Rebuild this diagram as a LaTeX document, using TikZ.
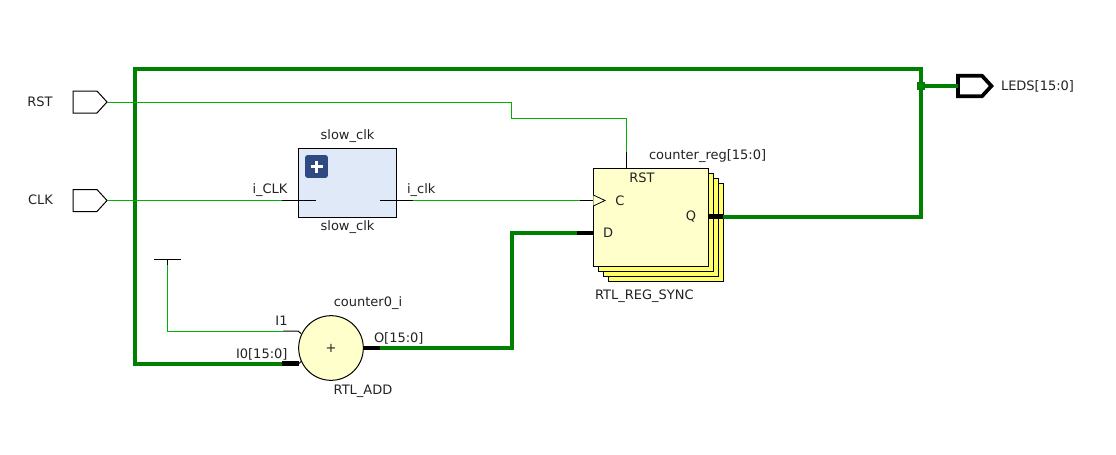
\documentclass[tikz,border=0pt]{standalone}
\usepackage{fontspec}
\setmainfont{DejaVu Sans}
\usetikzlibrary{shapes.symbols}
\definecolor{wthin}{HTML}{00B000}
\definecolor{wthick}{HTML}{008000}
\definecolor{regfront}{HTML}{FFFFCC}
\definecolor{regback}{HTML}{FFFF66}
\definecolor{hierfill}{HTML}{DFE9F7}
\definecolor{plusfill}{HTML}{2F4A82}
\definecolor{labelc}{HTML}{222222}
\tikzset{
  x=0.75pt,y=-0.75pt,
  lbl/.style={font=\fontsize{9.75}{12}\selectfont,text=labelc,inner sep=0pt,outer sep=0pt},
  portin/.style={signal,signal to=east,draw=black,line width=0.75pt,fill=white,signal pointer angle=95,minimum width=25.5pt,minimum height=16.5pt,inner sep=0pt,outer sep=0pt},
  portout/.style={signal,signal to=east,draw=black,line width=2.8pt,fill=white,signal pointer angle=95,minimum width=25pt,minimum height=15.5pt,inner sep=0pt,outer sep=0pt},
  thin wire/.style={draw=wthin,line width=0.75pt},
  thick wire/.style={draw=wthick,line width=3pt},
  thin stub/.style={draw=black,line width=0.75pt},
  thick stub/.style={draw=black,line width=3.2pt},
  regsheet/.style={draw=black,line width=0.75pt,minimum width=86.25pt,minimum height=73.9pt,inner sep=0pt,outer sep=0pt},
}
\begin{document}
\begin{tikzpicture}
\useasboundingbox[fill=white] (0,0) rectangle (1116,454);
% ports
\node[portin] (rstport) at (85,102) {};
\node[portin] (clkport) at (85,200.5) {};
\node[portout] (ledsport) at (970,86) {};
% blocks
\node[draw=black,fill=hierfill,line width=0.75pt,minimum width=73.6pt,minimum height=51.6pt,inner sep=0pt,outer sep=0pt] (slowclk) at (347.5,183) {};
\node[fill=plusfill,rounded corners=2pt,minimum size=17.2pt,inner sep=0pt] (plusicon) at (316.5,166.5) {};
\draw[white,line width=1.6pt] (plusicon.center) ++(-6,0) -- ++(12,0) (plusicon.center) ++(0,-6) -- ++(0,12);
\node[regsheet,fill=regback] (reg3) at (665.8,232.5) {};
\node[regsheet,fill=regback] (reg2) at (660.8,227.5) {};
\node[regsheet,fill=regback] (reg1) at (655.8,222.5) {};
\node[regsheet,fill=regfront] (reg0) at (650.8,217.5) {};
\node[circle,draw=black,fill=regfront,line width=0.75pt,minimum size=48.5pt,inner sep=0pt,outer sep=0pt] (adder) at (331,348) {};
\node[lbl] (plus) at (331,348) {+};
% bend and pin coordinates
\coordinate (iclkin) at (316,200.5);
\coordinate (iclkstub) at (282,200.5);
\coordinate (oclkout) at (380,200.5);
\coordinate (oclkstub) at (413,200.5);
\coordinate (cstub) at (580,200.5);
\coordinate (cpin) at (593.3,200.5);
\coordinate (dstub) at (577,233);
\coordinate (dpin) at (593.3,233);
\coordinate (qstub) at (723.3,216.5);
\coordinate (qpin) at (708.3,216.5);
\coordinate (jct) at (921,86);
\coordinate (i0stub) at (282,363.5);
\coordinate (i0pin) at (299,363.5);
\coordinate (i1stub) at (283,331);
\coordinate (i1pin) at (298,331);
\coordinate (ostub) at (380,348);
\coordinate (opin) at (363,348);
\coordinate (rststub) at (626.5,152);
\coordinate (rstpin) at (626.5,168);
\coordinate (tiecenter) at (167.5,259);
\coordinate (tieleft) at (154,259);
\coordinate (tieright) at (181,259);
% thick wires
\path[thick wire,line join=miter] (qstub) -- (921,216.5) -- (921,69) -- (135,69) -- (135,363.5) -- (i0stub);
\path[thick wire] (jct) -- (ledsport.west);
\path[thick wire,line join=miter] (ostub) -- (511.5,348) -- (511.5,233) -- (dstub);
\node[fill=wthick,minimum size=6pt,inner sep=0pt] (jctdot) at (jct) {};
% thin wires
\path[thin wire] (rstport.east) -- (511.5,102) -- (511.5,118) -- (626.5,118) -- (rststub);
\path[thin wire] (clkport.east) -- (iclkstub);
\path[thin wire] (oclkstub) -- (cstub);
\path[thin wire] (tiecenter) -- (167.5,331) -- (i1stub);
% stubs
\path[thin stub] (rststub) -- (rstpin);
\path[thin stub] (iclkstub) -- (iclkin);
\path[thin stub] (oclkout) -- (oclkstub);
\path[thin stub] (cstub) -- (cpin);
\path[thin stub] (i1stub) -- (i1pin) -- (301,333.5);
\path[thin stub] (tieleft) -- (tieright);
\path[thin stub] (tiecenter) -- (167.5,265);
\path[thick stub] (dstub) -- (dpin);
\path[thick stub] (qpin) -- (qstub);
\path[thick stub] (i0stub) -- (i0pin);
\path[thin stub] (i0pin) -- (301.5,361);
\path[thick stub] (opin) -- (ostub);
\draw[black,line width=0.6pt,fill=regfront] (593.3,195) -- (605,200.5) -- (593.3,206);
% labels
\node[lbl] (lrst) at (40,102) {RST};
\node[lbl] (lclk) at (40.5,200) {CLK};
\node[lbl,anchor=west] (lleds) at (1001,86) {LEDS[15:0]};
\node[lbl] (lslowt) at (347.5,136.5) {slow\_clk};
\node[lbl] (lslowb) at (347.5,227.5) {slow\_clk};
\node[lbl,anchor=east] (liclk) at (287.5,190) {i\_CLK};
\node[lbl,anchor=west] (loclk) at (407,190) {i\_clk};
\node[lbl,anchor=west] (lreg) at (649,156) {counter\_reg[15:0]};
\node[lbl] (lrstp) at (642,178) {RST};
\node[lbl] (lc) at (620,201) {C};
\node[lbl] (ld) at (608,233) {D};
\node[lbl] (lq) at (691,217) {Q};
\node[lbl,anchor=west] (lsync) at (595,296) {RTL\_REG\_SYNC};
\node[lbl] (lctr) at (368,303) {counter0\_i};
\node[lbl] (li1) at (281.5,321) {I1};
\node[lbl,anchor=east] (li0) at (287.5,354) {I0[15:0]};
\node[lbl,anchor=west] (lo) at (374,338) {O[15:0]};
\node[lbl] (ladd) at (363,391) {RTL\_ADD};
\end{tikzpicture}
\end{document}
